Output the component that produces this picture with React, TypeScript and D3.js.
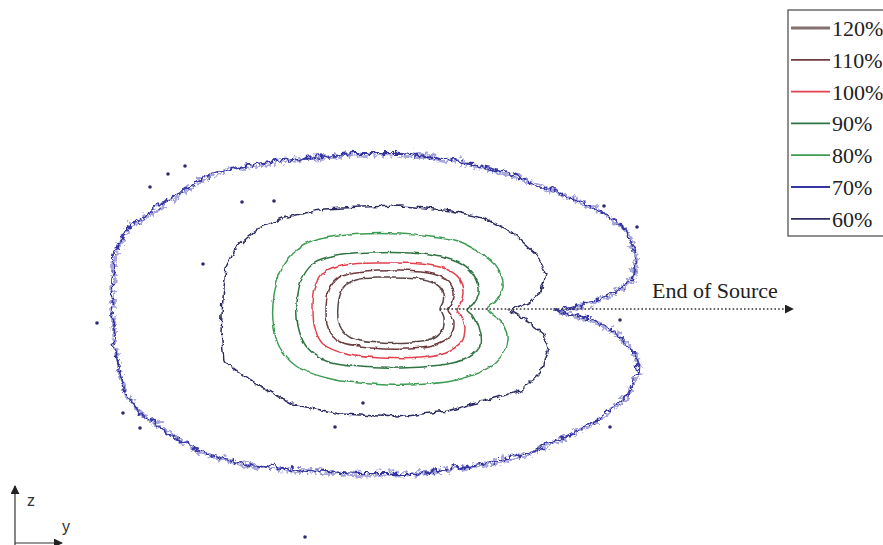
import React, { useRef, useEffect } from 'react';
import * as d3 from 'd3';

// isodose levels shown in the legend (top to bottom)
const levels = ['120%', '110%', '100%', '90%', '80%', '70%', '60%'];
const levelColors = ['#5b4545', '#6e3a3e', '#e2404c', '#2f7442', '#3d9c52', '#3636a2', '#2c2c62'];

// contour outlines, cm (y along source axis, z up), origin on the source line
const ring120: [number, number][] = [
  [5.0, 0], [5.3, 0.7], [5.3, 1.6], [4.5, 2.6], [2.5, 3.1], [-0.5, 3.2], [-3.5, 3.0], [-4.8, 2.1],
  [-5.3, 0.4], [-5.1, -1.6], [-4.0, -2.8], [-1.0, -3.3], [2.0, -3.3], [4.0, -3.0], [5.1, -2.1], [5.3, -0.9],
];
const ring110: [number, number][] = [
  [5.7, 0], [6.1, 0.6], [6.3, 1.7], [5.7, 2.9], [4.2, 3.6], [1.0, 3.9], [-2.5, 3.8], [-5.0, 3.3], [-6.2, 1.9],
  [-6.5, -0.1], [-6.2, -2.1], [-5.0, -3.3], [-2.0, -3.8], [1.5, -3.9], [4.3, -3.6], [5.9, -2.7], [6.3, -1.3], [6.0, -0.5],
];
const ring100: [number, number][] = [
  [6.6, 0], [7.0, 0.6], [7.3, 1.9], [6.8, 3.2], [5.5, 4.1], [3.0, 4.6], [-1.0, 4.7], [-4.5, 4.5], [-6.7, 3.7],
  [-7.6, 2.1], [-7.8, 0.1], [-7.6, -1.9], [-6.8, -3.4], [-4.5, -4.4], [-1.0, -4.8], [3.0, -4.8], [5.5, -4.3],
  [7.0, -3.3], [7.4, -1.8], [7.0, -0.6],
];
const ring90: [number, number][] = [
  [7.7, 0], [8.2, 0.5], [8.8, 1.7], [8.4, 3.3], [7.0, 4.6], [5.0, 5.3], [2.0, 5.7], [-2.0, 5.7], [-5.5, 5.4],
  [-7.8, 4.6], [-9.0, 2.9], [-9.4, 0.6], [-9.3, -1.6], [-8.5, -3.6], [-6.5, -5.1], [-3.0, -5.7], [1.0, -5.8],
  [5.0, -5.5], [7.7, -4.8], [9.0, -3.4], [8.8, -1.8], [8.2, -0.5],
];
const ring80: [number, number][] = [
  [9.7, 0], [10.3, 0.6], [11.2, 2.2], [10.8, 3.9], [10.0, 4.9], [7.0, 6.7], [4.0, 7.3], [1.0, 7.6], [-3.0, 7.6],
  [-7.0, 7.1], [-9.5, 5.9], [-11.0, 3.9], [-11.7, 1.4], [-11.8, -1.1], [-11.2, -3.6], [-9.5, -5.6], [-6.0, -6.9],
  [-2.0, -7.4], [2.0, -7.5], [7.0, -6.9], [10.5, -5.3], [11.7, -3.1], [11.2, -1.3],
];
const ringInnerBlue: [number, number][] = [
  [11.8, 0], [13.7, 0.7], [15.0, 1.9], [15.5, 3.6], [14.5, 5.6], [12.3, 7.6], [9.3, 9.2], [6.0, 9.9], [3.5, 10.2],
  [1.0, 10.4], [-3.0, 10.3], [-6.7, 10.1], [-10.7, 9.2], [-13.3, 8.2], [-15.5, 6.2], [-16.5, 4.2], [-16.8, 1.2],
  [-17.0, -2.1], [-16.7, -5.1], [-14.0, -7.1], [-10.0, -9.4], [-5.0, -10.4], [0.7, -10.7], [5.7, -10.1],
  [10.3, -8.8], [13.0, -8.1], [15.0, -6.1], [15.7, -3.8], [15.3, -2.4], [13.7, -1.1],
];
const ringOuterBlue: [number, number][] = [
  [16.3, 0], [19.7, 0.7], [22.3, 1.9], [24.0, 3.1], [24.4, 5.4], [23.4, 8.1], [20.5, 10.2], [16.2, 12.0],
  [11.0, 13.9], [6.0, 15.1], [1.0, 15.7], [-4.0, 15.7], [-6.7, 15.4], [-11.7, 14.9], [-16.0, 14.2], [-19.0, 13.2],
  [-23.3, 10.4], [-26.5, 8.2], [-27.8, 5.6], [-27.9, 2.9], [-28.0, -0.4], [-27.7, -3.8], [-26.8, -8.1],
  [-25.0, -10.4], [-23.3, -11.5], [-21.0, -13.1], [-18.3, -14.4], [-15.0, -15.3], [-10.0, -15.9], [-3.3, -16.3],
  [2.3, -16.3], [9.0, -15.4], [13.3, -14.4], [17.0, -12.8], [20.7, -10.8], [23.3, -8.8], [24.7, -6.1],
  [24.3, -4.3], [22.3, -2.1], [19.7, -0.8],
];
// stray points of the scan outside the contours
const speckles: [number, number][] = [
  [-20.5, 14.3], [-24.0, 12.2], [-22.2, 13.5], [-14.8, 10.7], [-11.6, 10.8], [-18.7, 4.5], [21.4, 10.3],
  [24.7, 8.2], [-29.3, -1.4], [-5.5, -11.8], [-2.7, -9.4], [-25.0, -11.9], [-26.7, -10.4], [22.0, -11.8],
  [23.0, -1.1], [-8.5, -22.8],
];

const rings = [
  { level: '70%', pts: ringOuterBlue, sharp: true, rough: 'roughMid' },
  { level: '60%', pts: ringInnerBlue, sharp: true, rough: 'roughSmall' },
  { level: '80%', pts: ring80, sharp: false, rough: 'roughTiny' },
  { level: '90%', pts: ring90, sharp: false, rough: 'roughTiny' },
  { level: '100%', pts: ring100, sharp: false, rough: 'roughTiny' },
  { level: '110%', pts: ring110, sharp: false, rough: 'roughTiny' },
  { level: '120%', pts: ring120, sharp: false, rough: 'roughTiny' },
];

const sourceStart = 5.0;
const sourceEnd = 40.3;

const W = 883;
const H = 545;

const App = () => {
  const svgRef = useRef<SVGSVGElement>(null);

  useEffect(() => {
    const svg = d3.select(svgRef.current);
    svg.selectAll('*').remove();

    const x = d3.scaleLinear().domain([-30, 30]).range([90, 690]);
    const y = d3.scaleLinear().domain([-20, 20]).range([509, 109]);
    const color = d3.scaleOrdinal<string, string>().domain(levels).range(levelColors);

    const defs = svg.append('defs');
    const rough = (id: string, scale: number, freq: number) => {
      const f = defs.append('filter').attr('id', id)
        .attr('x', '-5%').attr('y', '-5%').attr('width', '110%').attr('height', '110%');
      f.append('feTurbulence').attr('type', 'turbulence').attr('baseFrequency', freq)
        .attr('numOctaves', 3).attr('seed', 7).attr('result', 'n');
      f.append('feDisplacementMap').attr('in', 'SourceGraphic').attr('in2', 'n')
        .attr('scale', scale).attr('xChannelSelector', 'R').attr('yChannelSelector', 'G');
    };
    rough('roughBig', 12, 0.12);
    rough('roughMid', 8, 0.1);
    rough('roughSmall', 5, 0.09);
    rough('roughTiny', 3, 0.08);

    defs.append('marker').attr('id', 'arrowHead')
      .attr('viewBox', '0 0 10 10').attr('refX', 9).attr('refY', 5)
      .attr('markerWidth', 9).attr('markerHeight', 9).attr('markerUnits', 'userSpaceOnUse')
      .attr('orient', 'auto')
      .append('path').attr('d', 'M0,0 L10,5 L0,10 Z').attr('fill', '#222');

    const linearLine = d3.line<[number, number]>().x(d => x(d[0])).y(d => y(d[1])).curve(d3.curveLinearClosed);
    const smoothLine = d3.line<[number, number]>().x(d => x(d[0])).y(d => y(d[1])).curve(d3.curveCatmullRomClosed.alpha(0.5));

    const g = svg.append('g');

    // noisy band around the outermost contour
    g.append('path').datum(ringOuterBlue)
      .attr('d', linearLine)
      .attr('fill', 'none')
      .attr('stroke', '#6a6ac4')
      .attr('stroke-width', 3)
      .attr('stroke-opacity', 0.6)
      .attr('filter', 'url(#roughBig)');

    g.selectAll('path.ring')
      .data(rings)
      .enter()
      .append('path')
      .attr('class', 'ring')
      .attr('d', d => (d.sharp ? linearLine(d.pts) : smoothLine(d.pts)))
      .attr('fill', 'none')
      .attr('stroke', d => color(d.level))
      .attr('stroke-width', d => (d.level === '70%' ? 1.8 : 1.5))
      .attr('stroke-linejoin', 'round')
      .attr('filter', d => `url(#${d.rough})`);

    g.selectAll('circle.speck')
      .data(speckles)
      .enter()
      .append('circle')
      .attr('class', 'speck')
      .attr('cx', d => x(d[0]))
      .attr('cy', d => y(d[1]))
      .attr('r', 1.8)
      .attr('fill', '#2c2c70');

    // source axis arrow
    g.append('line')
      .attr('x1', x(sourceStart)).attr('y1', y(0))
      .attr('x2', x(sourceEnd)).attr('y2', y(0))
      .attr('stroke', '#333')
      .attr('stroke-width', 1.6)
      .attr('stroke-dasharray', '1.6 2.2')
      .attr('marker-end', 'url(#arrowHead)');

    g.append('text')
      .attr('x', x(26.2)).attr('y', y(1.1))
      .attr('font-family', '"Liberation Serif", "Times New Roman", serif')
      .attr('font-size', 22)
      .attr('fill', '#222')
      .text('End of Source');

    // legend
    const lg = svg.append('g').attr('transform', 'translate(788,10)');
    lg.append('rect')
      .attr('x', 0).attr('y', 0).attr('width', 120).attr('height', 226)
      .attr('fill', 'white').attr('stroke', '#555').attr('stroke-width', 1.3);
    const item = lg.selectAll('g.item')
      .data(levels)
      .enter()
      .append('g')
      .attr('class', 'item')
      .attr('transform', (_d, i) => `translate(0,${18 + i * 31.8})`);
    item.append('line')
      .attr('x1', 3).attr('x2', 42).attr('y1', 0).attr('y2', 0)
      .attr('stroke', d => (d === '120%' ? '#857070' : color(d)))
      .attr('stroke-width', d => (d === '120%' ? 3.2 : 1.8));
    item.append('text')
      .attr('x', 44).attr('y', 0).attr('dy', '0.36em')
      .attr('font-family', '"Liberation Serif", "Times New Roman", serif')
      .attr('font-size', 22)
      .attr('fill', '#222')
      .text(d => d);

    // coordinate indicator
    const ax = svg.append('g');
    ax.append('line')
      .attr('x1', 15).attr('y1', 545).attr('x2', 15).attr('y2', 486)
      .attr('stroke', '#333').attr('stroke-width', 1.2)
      .attr('marker-end', 'url(#arrowHead)');
    ax.append('line')
      .attr('x1', 15).attr('y1', 543).attr('x2', 62).attr('y2', 543)
      .attr('stroke', '#333').attr('stroke-width', 1.2)
      .attr('marker-end', 'url(#arrowHead)');
    ax.append('text')
      .attr('x', 27).attr('y', 506)
      .attr('font-family', '"Liberation Sans", Arial, sans-serif')
      .attr('font-size', 16).attr('fill', '#333').text('z');
    ax.append('text')
      .attr('x', 62).attr('y', 532)
      .attr('font-family', '"Liberation Sans", Arial, sans-serif')
      .attr('font-size', 16).attr('fill', '#333').text('y');
  }, []);

  return (
    <svg
      ref={svgRef}
      width={W}
      height={H}
      style={{ position: 'absolute', left: 0, top: 0, background: '#fff' }}
    />
  );
};

export default App;
